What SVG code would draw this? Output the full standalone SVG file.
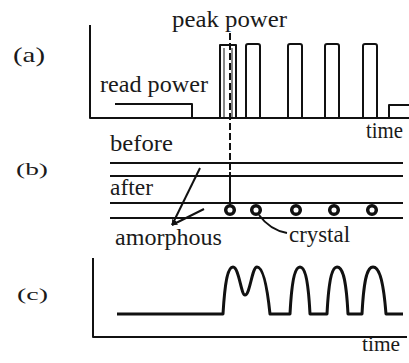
<svg xmlns="http://www.w3.org/2000/svg" width="409" height="363" viewBox="0 0 409 363">
<defs>
<style>
.ln{fill:none;stroke:#111;stroke-width:2;stroke-linejoin:round;stroke-linecap:butt}
.thin{fill:none;stroke:#111;stroke-width:1}
.sig{fill:none;stroke:#111;stroke-width:3;stroke-linejoin:round}
.cr{fill:#fff;stroke:#111;stroke-width:3.5}
text{font-family:"Liberation Serif","Times New Roman",serif;fill:#1a1a1a}
.lb{font-size:23px}
</style>
<marker id="ah" viewBox="0 0 10 10" refX="9" refY="5" markerWidth="6" markerHeight="6" orient="auto" markerUnits="userSpaceOnUse">
<path d="M0,1 L10,5 L0,9 Z" fill="#111"/>
</marker>
</defs>
<rect width="409" height="363" fill="#fff"/>

<g id="panel-a">
<text x="13" y="62" font-size="22" textLength="32" lengthAdjust="spacingAndGlyphs">(a)</text>
<path class="ln" d="M90 25 V118 H409"/>
<path id="read-power-level" class="ln" d="M115 104 H192 V118"/>
<g id="pulses">
<path class="ln" d="M220 118 V45 H236 V118"/>
<path class="thin" d="M224 118 V48 M232 118 V48"/>
<path class="ln" d="M246 118 V46 Q246 44 248 44 H258 Q260 44 260 46 V118"/>
<path class="ln" d="M288 118 V46 Q288 44 290 44 H300 Q302 44 302 46 V118"/>
<path class="ln" d="M325 118 V46 Q325 44 327 44 H337 Q339 44 339 46 V118"/>
<path class="ln" d="M363 118 V46 Q363 44 365 44 H375 Q377 44 377 46 V118"/>
<path class="ln" d="M389 118 V105 H409"/>
</g>
<text class="lb" x="172" y="27" textLength="115" lengthAdjust="spacingAndGlyphs">peak power</text>
<text class="lb" x="100" y="92" textLength="108" lengthAdjust="spacingAndGlyphs">read power</text>
<text class="lb" x="366" y="138" textLength="37" lengthAdjust="spacingAndGlyphs">time</text>
</g>

<g id="panel-b">
<text x="16" y="175" font-size="17" textLength="32" lengthAdjust="spacingAndGlyphs">(b)</text>
<g id="layers">
<path class="ln" d="M110 163 H403 M110 176 H403 M110 203 H403 M110 218 H403"/>
</g>
<text class="lb" x="110" y="151" textLength="63" lengthAdjust="spacingAndGlyphs">before</text>
<text class="lb" x="110" y="195" textLength="43" lengthAdjust="spacingAndGlyphs">after</text>
<g id="crystals">
<circle class="cr" cx="230" cy="210" r="4.3"/>
<circle class="cr" cx="256" cy="210" r="4.3"/>
<circle class="cr" cx="296" cy="210" r="4.3"/>
<circle class="cr" cx="334" cy="210" r="4.3"/>
<circle class="cr" cx="372" cy="210" r="4.3"/>
</g>
<text class="lb" x="115" y="245" textLength="107" lengthAdjust="spacingAndGlyphs">amorphous</text>
<text class="lb" x="289" y="242" textLength="61" lengthAdjust="spacingAndGlyphs">crystal</text>
</g>

<g id="connectors">
<path class="ln" d="M230 33 V172" stroke-dasharray="7 3"/>
<path class="ln" d="M230 172 V205" stroke-width="2.5"/>
<path class="ln" d="M200 168 L172 225" marker-end="url(#ah)"/>
<path class="ln" d="M204 209 L172 225" marker-end="url(#ah)"/>
<path class="ln" d="M259 215 Q270 230 287 233"/>
</g>

<g id="panel-c">
<text x="17" y="300" font-size="16" textLength="31" lengthAdjust="spacingAndGlyphs">(c)</text>
<path class="ln" d="M93 258 V337 H407"/>
<path class="sig" d="M117 314 H223 C225 280 228 267 233 267 C239 267 241 295 245 295 C250 295 252 267 257 267 C263 267 267 285 270 314 H290 C292 275 296 267 300 267 C304 267 308 275 310 314 H327 C329 275 333 267 337 267 C342 267 346 275 348 314 H362 C364 275 368 267 373 267 C378 267 383 275 386 314 H403"/>
<text x="362" y="351" font-size="21" textLength="38" lengthAdjust="spacingAndGlyphs">time</text>
</g>
</svg>
